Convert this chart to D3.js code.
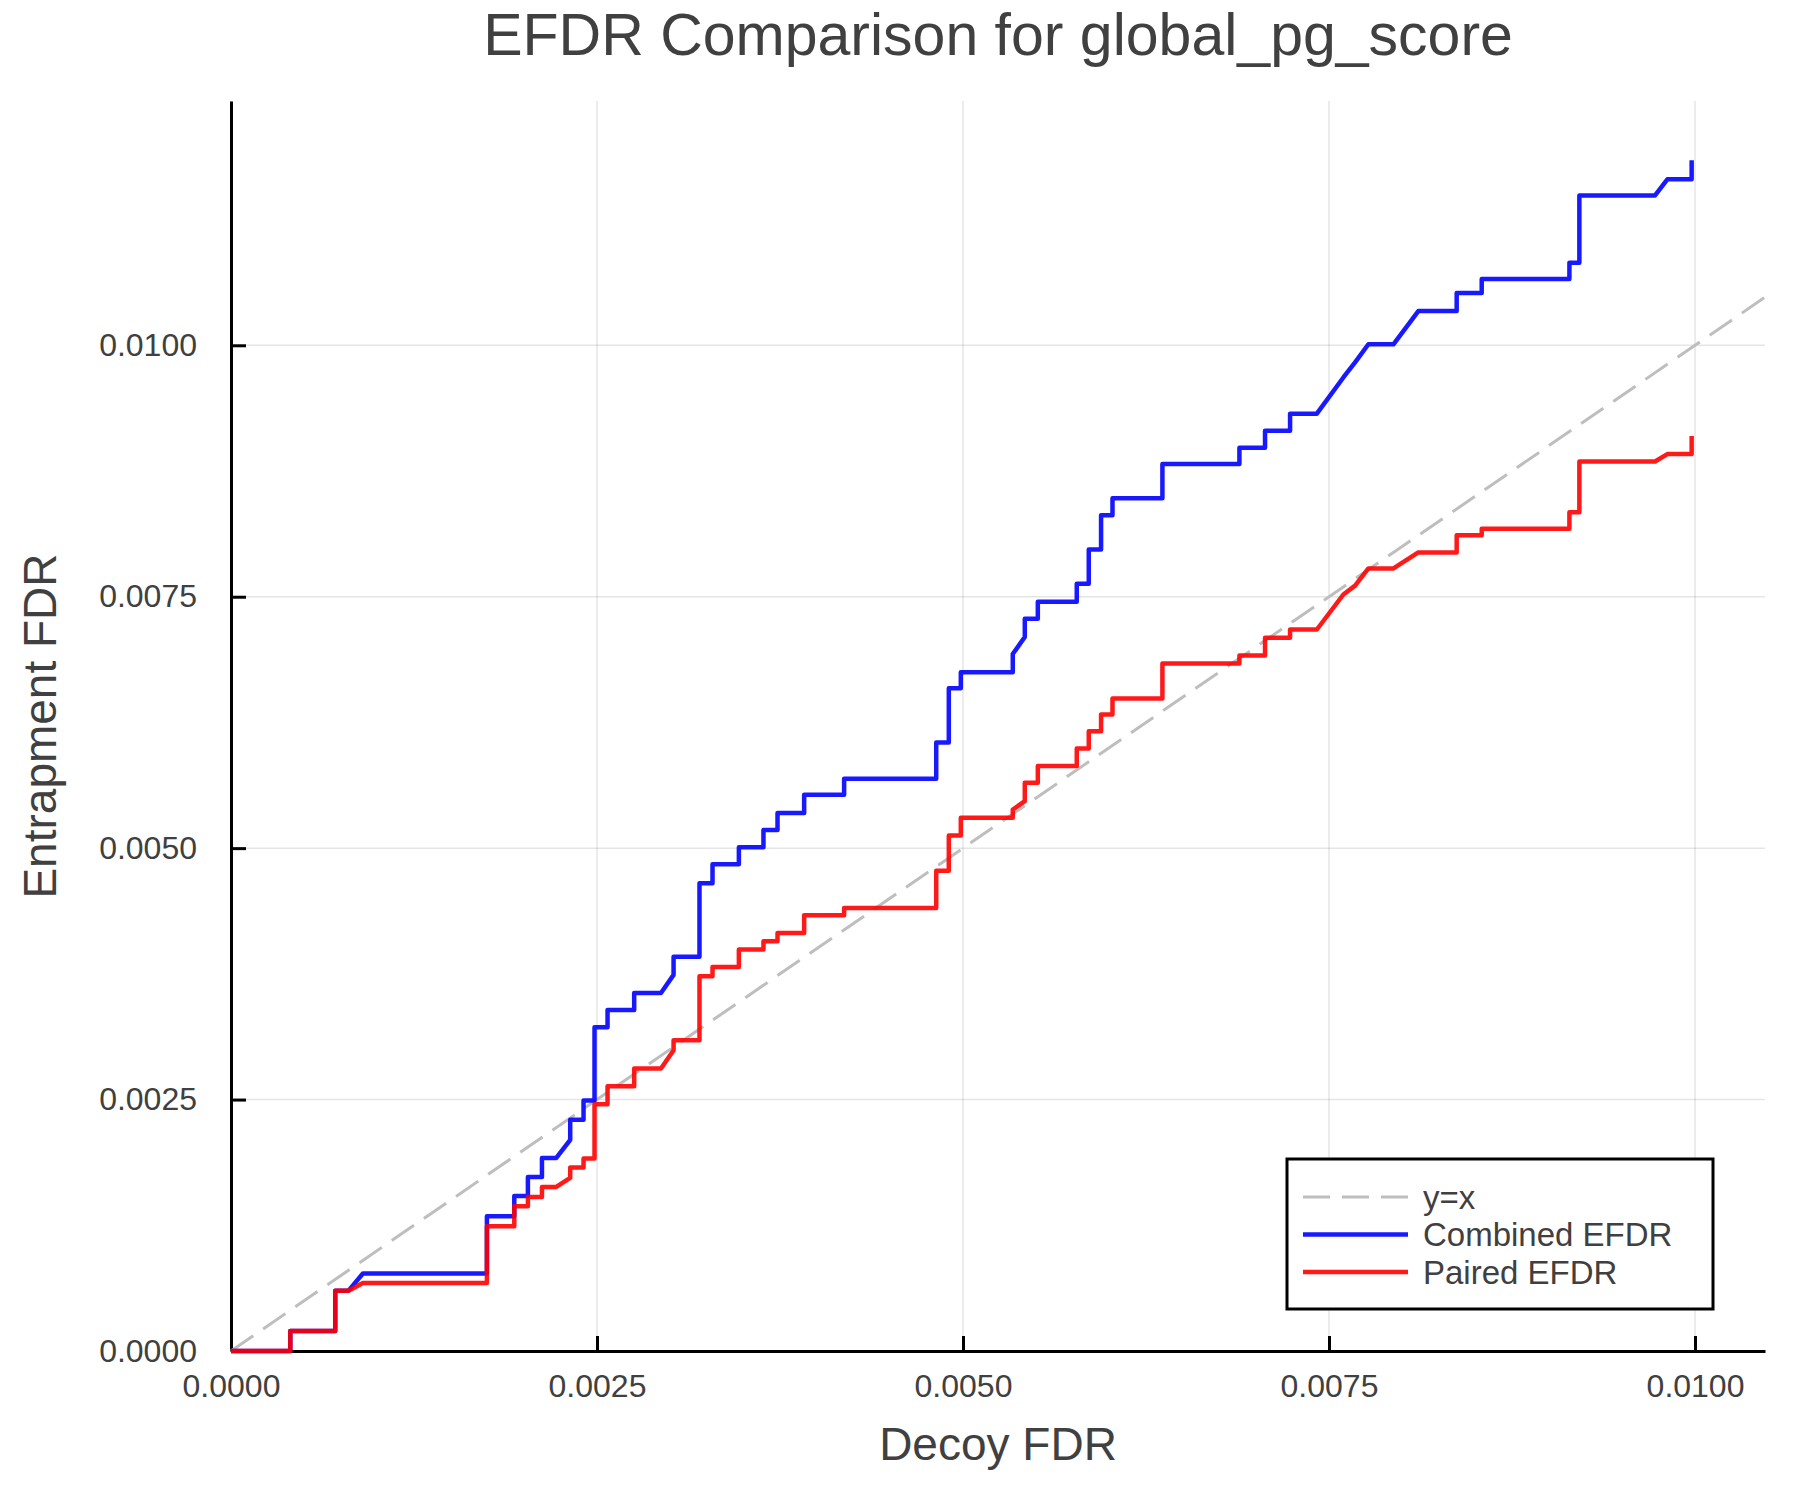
<!DOCTYPE html>
<html>
<head>
<meta charset="utf-8">
<title>EFDR Comparison for global_pg_score</title>
<script src="https://cdn.jsdelivr.net/npm/d3@7"></script>
<style>
  body { margin: 0; background: #fff; }
  text { font-family: "Liberation Sans", Arial, Helvetica, sans-serif; fill: #404040; }
</style>
</head>
<body>
<div id="chart"></div>
<script>
// vertices of the two step curves (decoy FDR on x, entrapment FDR on y)
const decoyFdr = [
  0, 4.05e-4, 4.05e-4, 7.12e-4, 7.12e-4, 8.03e-4, 9.01e-4, 17.48e-4, 17.48e-4, 19.35e-4,
  19.35e-4, 20.28e-4, 20.28e-4, 21.24e-4, 21.24e-4, 22.22e-4, 23.17e-4, 23.17e-4, 24.08e-4, 24.08e-4,
  24.83e-4, 24.83e-4, 25.72e-4, 25.72e-4, 27.54e-4, 27.54e-4, 29.37e-4, 30.23e-4, 30.23e-4, 32.0e-4,
  32.0e-4, 32.89e-4, 32.89e-4, 34.69e-4, 34.69e-4, 36.37e-4, 36.37e-4, 37.33e-4, 37.33e-4, 39.15e-4,
  39.15e-4, 41.88e-4, 41.88e-4, 48.17e-4, 48.17e-4, 49.03e-4, 49.03e-4, 49.85e-4, 49.85e-4, 53.40e-4,
  53.40e-4, 54.22e-4, 54.22e-4, 55.11e-4, 55.11e-4, 57.77e-4, 57.77e-4, 58.59e-4, 58.59e-4, 59.43e-4,
  59.43e-4, 60.21e-4, 60.21e-4, 63.62e-4, 63.62e-4, 68.88e-4, 68.88e-4, 70.63e-4, 70.63e-4, 72.34e-4,
  72.34e-4, 74.17e-4, 75.98e-4, 76.78e-4, 77.69e-4, 79.40e-4, 81.10e-4, 83.72e-4, 83.72e-4, 85.43e-4,
  85.43e-4, 91.42e-4, 91.42e-4, 92.10e-4, 92.10e-4, 97.27e-4, 98.11e-4, 99.77e-4, 99.77e-4
];

const combinedEfdr = [
  0, 0, 2.0e-4, 2.0e-4, 6.0e-4, 6.0e-4, 7.7e-4, 7.7e-4, 13.4e-4, 13.4e-4,
  15.4e-4, 15.4e-4, 17.3e-4, 17.3e-4, 19.2e-4, 19.2e-4, 21.0e-4, 23.0e-4, 23.0e-4, 24.9e-4,
  24.9e-4, 32.2e-4, 32.2e-4, 33.9e-4, 33.9e-4, 35.6e-4, 35.6e-4, 37.4e-4, 39.2e-4, 39.2e-4,
  46.5e-4, 46.5e-4, 48.4e-4, 48.4e-4, 50.1e-4, 50.1e-4, 51.8e-4, 51.8e-4, 53.5e-4, 53.5e-4,
  55.3e-4, 55.3e-4, 56.9e-4, 56.9e-4, 60.5e-4, 60.5e-4, 65.9e-4, 65.9e-4, 67.5e-4, 67.5e-4,
  69.3e-4, 71.0e-4, 72.8e-4, 72.8e-4, 74.5e-4, 74.5e-4, 76.3e-4, 76.3e-4, 79.7e-4, 79.7e-4,
  83.1e-4, 83.1e-4, 84.8e-4, 84.8e-4, 88.2e-4, 88.2e-4, 89.8e-4, 89.8e-4, 91.5e-4, 91.5e-4,
  93.2e-4, 93.2e-4, 96.8e-4, 98.3e-4, 100.1e-4, 100.1e-4, 103.4e-4, 103.4e-4, 105.2e-4, 105.2e-4,
  106.6e-4, 106.6e-4, 108.2e-4, 108.2e-4, 114.9e-4, 114.9e-4, 116.5e-4, 116.5e-4, 118.4e-4
];

const pairedEfdr = [
  0, 0, 2.0e-4, 2.0e-4, 6.0e-4, 6.0e-4, 6.77e-4, 6.77e-4, 12.4e-4, 12.4e-4,
  14.39e-4, 14.39e-4, 15.32e-4, 15.32e-4, 16.31e-4, 16.31e-4, 17.21e-4, 18.24e-4, 18.24e-4, 19.13e-4,
  19.13e-4, 24.53e-4, 24.53e-4, 26.33e-4, 26.33e-4, 28.08e-4, 28.08e-4, 29.9e-4, 30.9e-4, 30.9e-4,
  37.27e-4, 37.27e-4, 38.19e-4, 38.19e-4, 39.92e-4, 39.92e-4, 40.75e-4, 40.75e-4, 41.57e-4, 41.57e-4,
  43.33e-4, 43.33e-4, 44.06e-4, 44.06e-4, 47.74e-4, 47.74e-4, 51.26e-4, 51.26e-4, 53.01e-4, 53.01e-4,
  53.84e-4, 54.67e-4, 56.49e-4, 56.49e-4, 58.18e-4, 58.18e-4, 59.91e-4, 59.91e-4, 61.63e-4, 61.63e-4,
  63.29e-4, 63.29e-4, 64.88e-4, 64.88e-4, 68.36e-4, 68.36e-4, 69.16e-4, 69.16e-4, 70.91e-4, 70.91e-4,
  71.74e-4, 71.74e-4, 75.22e-4, 76.1e-4, 77.81e-4, 77.81e-4, 79.4e-4, 79.4e-4, 81.12e-4, 81.12e-4,
  81.75e-4, 81.75e-4, 83.4e-4, 83.4e-4, 88.45e-4, 88.45e-4, 89.18e-4, 89.18e-4, 90.97e-4
];

const xTicks = [0, 0.0025, 0.005, 0.0075, 0.01];
const yTicks = [0, 0.0025, 0.005, 0.0075, 0.01];
const legendLabels = ["y=x", "Combined EFDR", "Paired EFDR"];

const width = 1800;
const height = 1500;
const plotLeft = 231, plotRight = 1765, plotTop = 101, plotBottom = 1351;

const svg = d3.select("#chart")
  .append("svg")
  .attr("width", width)
  .attr("height", height)
  .style("background", "#fff");

const x = d3.scaleLinear().domain([0, 0.010478]).range([plotLeft, plotRight]);
const y = d3.scaleLinear().domain([0, 0.012429]).range([plotBottom, plotTop]);

// grid
svg.append("g")
  .selectAll("line")
  .data(xTicks)
  .enter()
  .append("line")
  .attr("x1", d => x(d))
  .attr("x2", d => x(d))
  .attr("y1", plotTop)
  .attr("y2", plotBottom)
  .attr("stroke", "#000")
  .attr("stroke-opacity", 0.1)
  .attr("stroke-width", 1.5);

svg.append("g")
  .selectAll("line")
  .data(yTicks)
  .enter()
  .append("line")
  .attr("x1", plotLeft)
  .attr("x2", plotRight)
  .attr("y1", d => y(d))
  .attr("y2", d => y(d))
  .attr("stroke", "#000")
  .attr("stroke-opacity", 0.1)
  .attr("stroke-width", 1.5);

const fmt = d3.format(".4f");

// axes, ticks pointing inside
const xAxis = svg.append("g")
  .attr("transform", `translate(0,${plotBottom})`)
  .call(d3.axisBottom(x).tickValues(xTicks).tickFormat(fmt)
    .tickSizeInner(-15).tickSizeOuter(0).tickPadding(23));

const yAxis = svg.append("g")
  .attr("transform", `translate(${plotLeft},0)`)
  .call(d3.axisLeft(y).tickValues(yTicks).tickFormat(fmt)
    .tickSizeInner(-15).tickSizeOuter(0).tickPadding(34));

[xAxis, yAxis].forEach(a => {
  a.select(".domain").attr("stroke", "#000").attr("stroke-width", 3);
  a.selectAll(".tick line").attr("stroke", "#000").attr("stroke-width", 3);
  a.selectAll(".tick text")
    .attr("fill", "#404040")
    .style("font-size", "32px")
    .style("font-family", '"Liberation Sans", Arial, sans-serif');
});

// y = x reference
svg.append("line")
  .attr("x1", x(0))
  .attr("y1", y(0))
  .attr("x2", x(0.010478))
  .attr("y2", y(0.010478))
  .attr("stroke", "#bebebe")
  .attr("stroke-width", 3)
  .attr("stroke-dasharray", "27,12");

const line = d3.line()
  .x((d, i) => x(decoyFdr[i]))
  .y(d => y(d));

svg.append("path")
  .datum(combinedEfdr)
  .attr("d", line)
  .attr("fill", "none")
  .attr("stroke", "#0000ff")
  .attr("stroke-opacity", 0.9)
  .attr("stroke-width", 4.5)
  .attr("stroke-linejoin", "round");

svg.append("path")
  .datum(pairedEfdr)
  .attr("d", line)
  .attr("fill", "none")
  .attr("stroke", "#ff0000")
  .attr("stroke-opacity", 0.9)
  .attr("stroke-width", 4.5)
  .attr("stroke-linejoin", "round");

// titles
svg.append("text")
  .attr("x", (plotLeft + plotRight) / 2)
  .attr("y", 55)
  .attr("text-anchor", "middle")
  .style("font-size", "59px")
  .text("EFDR Comparison for global_pg_score");

svg.append("text")
  .attr("x", (plotLeft + plotRight) / 2)
  .attr("y", 1460)
  .attr("text-anchor", "middle")
  .style("font-size", "46px")
  .text("Decoy FDR");

svg.append("text")
  .attr("transform", `translate(56,${(plotTop + plotBottom) / 2}) rotate(-90)`)
  .attr("text-anchor", "middle")
  .style("font-size", "46px")
  .text("Entrapment FDR");

// legend
const legend = svg.append("g");
legend.append("rect")
  .attr("x", 1287)
  .attr("y", 1159)
  .attr("width", 426)
  .attr("height", 150)
  .attr("fill", "#fff")
  .attr("stroke", "#000")
  .attr("stroke-width", 3);

const legendStyles = [
  { color: "#bebebe", width: 3, dash: "27,12", opacity: 1 },
  { color: "#0000ff", width: 4.5, dash: null, opacity: 0.9 },
  { color: "#ff0000", width: 4.5, dash: null, opacity: 0.9 }
];

const rows = legend.selectAll(".row")
  .data(legendLabels)
  .enter()
  .append("g")
  .attr("transform", (d, i) => `translate(0,${1197 + i * 37.5})`);

rows.append("line")
  .attr("x1", 1303)
  .attr("x2", 1408)
  .attr("stroke", (d, i) => legendStyles[i].color)
  .attr("stroke-width", (d, i) => legendStyles[i].width)
  .attr("stroke-opacity", (d, i) => legendStyles[i].opacity)
  .attr("stroke-dasharray", (d, i) => legendStyles[i].dash);

rows.append("text")
  .attr("x", 1423)
  .attr("dy", "0.36em")
  .style("font-size", "33px")
  .text(d => d);
</script>
</body>
</html>
